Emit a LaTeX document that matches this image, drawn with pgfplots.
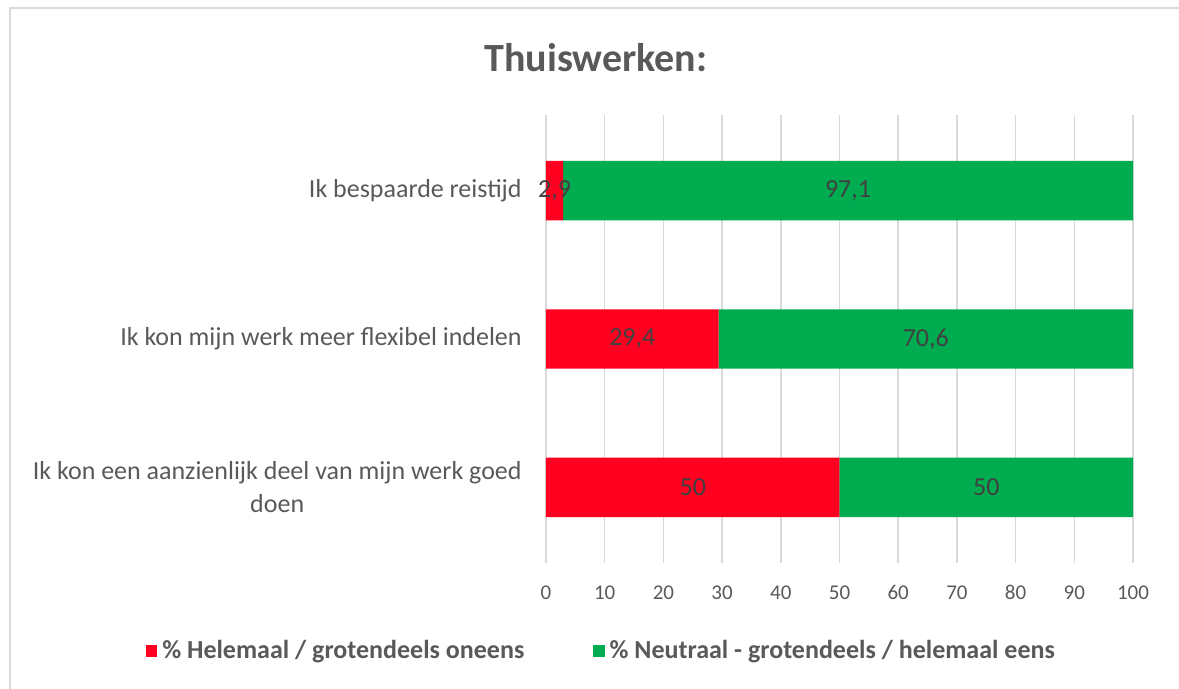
\documentclass[border=0pt]{standalone}
\usepackage{pgfplots}
\pgfplotsset{compat=1.18}
\usepackage{fontspec}
\setmainfont{Carlito}
\definecolor{myred}{RGB}{255,0,32}
\definecolor{mygreen}{RGB}{0,172,80}
\definecolor{txt}{RGB}{89,89,89}
\definecolor{lbl}{RGB}{64,64,64}
\definecolor{grd}{RGB}{217,217,217}
\begin{document}
\begin{tikzpicture}
\useasboundingbox (0,0) rectangle (589.5pt,-344.5pt);
\draw[grd, line width=0.8pt] (5pt,-344.5pt) -- (5pt,-4pt) -- (589.5pt,-4pt);
\node[txt, font={\fontsize{20}{24}\selectfont\bfseries}] at (298pt,-29pt) {Thuiswerken:};
\begin{axis}[
  at={(273pt,-281.5pt)}, anchor=south west,
  scale only axis, width=293.5pt, height=224pt,
  xbar stacked, bar width=0.4,
  xmin=0, xmax=100, ymin=-0.51, ymax=2.51,
  xtick={0,10,...,100}, ytick={0,1,2},
  yticklabels={{Ik kon een aanzienlijk deel van mijn werk goed\\doen},{Ik kon mijn werk meer flexibel indelen},{Ik bespaarde reistijd}},
  yticklabel style={align=center, inner sep=0pt, xshift=-12pt, text=txt, font={\fontsize{13}{16.5}\selectfont}},
  xticklabel style={inner sep=0pt, yshift=-11pt, text=txt, font={\fontsize{10.5}{12}\selectfont}},
  /pgf/number format/assume math mode=true,
  axis line style={draw=none}, tick style={draw=none}, major tick length=0pt,
  xmajorgrids, grid style={draw=grd, line width=0.8pt},
  nodes near coords={\pgfmathprintnumber[use comma]{\rawx}},
  visualization depends on={rawx \as \rawx},
  every node near coord/.append style={anchor=center, text=lbl, font={\fontsize{13}{15}\selectfont}},
  legend columns=2,
  legend style={at={(0.0971,-0.1964)}, anchor=center, draw=none, fill=none, text=txt,
    font={\fontsize{13}{15}\selectfont\bfseries},
    /tikz/every even column/.append style={column sep=32pt},
    nodes={inner sep=2.5pt}},
  legend image code/.code={\fill[#1,draw=none] (0pt,-2.8pt) rectangle (5.6pt,2.8pt);},
]
\addplot[fill=myred, draw=none] coordinates {(50,0) (29.4,1) (2.9,2)};
\addplot[fill=mygreen, draw=none] coordinates {(50,0) (70.6,1) (97.1,2)};
\legend{\% Helemaal / grotendeels oneens, \% Neutraal - grotendeels / helemaal eens}
\end{axis}
\end{tikzpicture}
\end{document}
